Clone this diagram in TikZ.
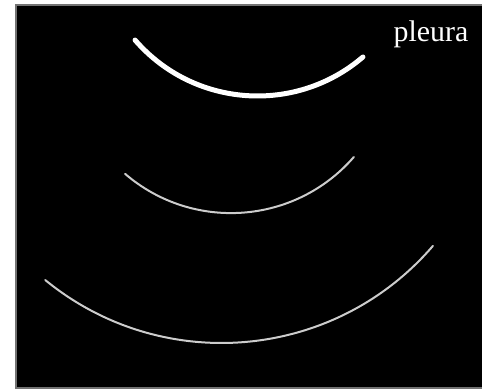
\documentclass[tikz,border=0pt]{standalone}
\usepackage{fontspec}
\setmainfont{Liberation Serif}
\usepackage{tikz}

\begin{document}
\begin{tikzpicture}[x=0.02cm,y=0.02cm,line width=.35pt,
  echo/.style={draw=white!80!black,line width=0.04cm,line cap=round},
  pleuraline/.style={draw=white,line width=0.1cm,line cap=round}]
\useasboundingbox (0,0) rectangle (482,391);
\fill[white] (0,0) rectangle (482,391);
\draw[draw=black!55,fill=black,line width=1pt] (16,3) rectangle (483,386);
% pleura line and its two echoes below
\draw[pleuraline] (257.5,457) ++(220.9:162) arc[start angle=220.9,end angle=310.6,radius=162];
\draw[echo] (231,340.4) ++(229.3:162.5) arc[start angle=229.3,end angle=319.1,radius=162.5];
\draw[echo] (221.6,326.5) ++(230.7:278.5) arc[start angle=230.7,end angle=319.35,radius=278.5];
\node[anchor=base,inner sep=0pt,text=white,font=\fontsize{17}{17}\selectfont] (pleura) at (431,349) {pleura};
\end{tikzpicture}
\end{document}
